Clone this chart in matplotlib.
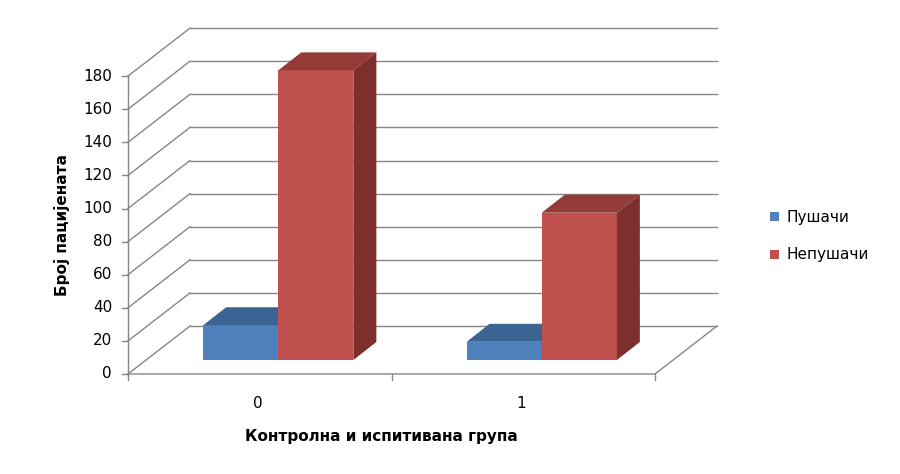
import matplotlib.pyplot as plt
from matplotlib.patches import Polygon, Rectangle

categories = ['0', '1']
series = ['Пушачи', 'Непушачи']
values = {
    'Пушачи': [21, 11],
    'Непушачи': [175, 89],
}
face_colors = {'Пушачи': '#4F81BD', 'Непушачи': '#C0504D'}
top_colors = {'Пушачи': '#3C6492', 'Непушачи': '#943B38'}
side_colors = {'Пушачи': '#2F4F75', 'Непушачи': '#7D2F2D'}
y_ticks = list(range(0, 181, 20))

# scale: one category = 263.5 px, one value unit = 1.655 px
PXX = 263.5
PXY = 1.655
DX = 62 / PXX      # wall depth
DY = 48 / PXY
BAR_Y0 = 14 / PXY      # bar front base above floor front
BAR_DX = 23 / PXX      # bar depth
BAR_DY = 18 / PXY
OFF = 0.217
F0 = 0.29
W = 0.285
grid = '#868686'

fig = plt.figure(figsize=(9, 4.74), dpi=100)
ax = fig.add_axes([0, 0, 1, 1])
ax.set_xlim(-128 / PXX, (900 - 128) / PXX)
ax.set_ylim((374 - 474) / PXY, 374 / PXY)
ax.axis('off')

n = len(categories)
# back wall gridlines and side wall diagonals
for v in y_ticks:
    ax.plot([DX, n + DX], [v + DY, v + DY], color=grid, lw=1, zorder=1)
    ax.plot([0, DX], [v, v + DY], color=grid, lw=1, zorder=1)
    ax.plot([-6 / PXX, 0], [v, v], color=grid, lw=1, zorder=1)
    ax.text(-16 / PXX, v, str(v), ha='right', va='center', fontsize=11)
# floor and axes
ax.plot([0, n, n + DX], [0, 0, DY], color=grid, lw=1, zorder=1)
ax.plot([0, 0], [0, y_ticks[-1]], color=grid, lw=1, zorder=1)
for i in range(n + 1):
    ax.plot([i, i], [0, -6 / PXY], color=grid, lw=1, zorder=1)
for i, c in enumerate(categories):
    ax.text(i + 0.5 - 2 / PXX, -29 / PXY, c, ha='center', va='center', fontsize=11)

# bars
for i in range(n):
    for k, s in enumerate(series):
        v = values[s][i]
        x0 = i + OFF + F0 * DX + k * W
        y0 = BAR_Y0
        z = 3 + k
        ax.add_patch(Rectangle((x0, y0), W, v, facecolor=face_colors[s], edgecolor='none', zorder=z))
        ax.add_patch(Polygon([(x0, y0 + v), (x0 + W, y0 + v), (x0 + W + BAR_DX, y0 + v + BAR_DY),
                              (x0 + BAR_DX, y0 + v + BAR_DY)],
                             closed=True, facecolor=top_colors[s], edgecolor='none', zorder=z))
        ax.add_patch(Polygon([(x0 + W, y0), (x0 + W + BAR_DX, y0 + BAR_DY), (x0 + W + BAR_DX, y0 + v + BAR_DY),
                              (x0 + W, y0 + v)],
                             closed=True, facecolor=side_colors[s], edgecolor='none', zorder=z))

ax.text((381 - 128) / PXX, (374 - 437) / PXY, 'Контролна и испитивана група', ha='center', va='center',
        fontsize=11, fontweight='bold')
ax.text((62 - 128) / PXX, (374 - 225) / PXY, 'Број пацијената', ha='center', va='center',
        fontsize=11, fontweight='bold', rotation=90)

# legend
for k, s in enumerate(series):
    yy = (374 - (217 + 38 * k)) / PXY
    ax.add_patch(Rectangle(((770 - 128) / PXX, yy - 4 / PXY), 9 / PXX, 9 / PXY, facecolor=face_colors[s], edgecolor='none'))
    ax.text((787 - 128) / PXX, yy, s, ha='left', va='center', fontsize=11)

fig.savefig('out.png', dpi=100)
